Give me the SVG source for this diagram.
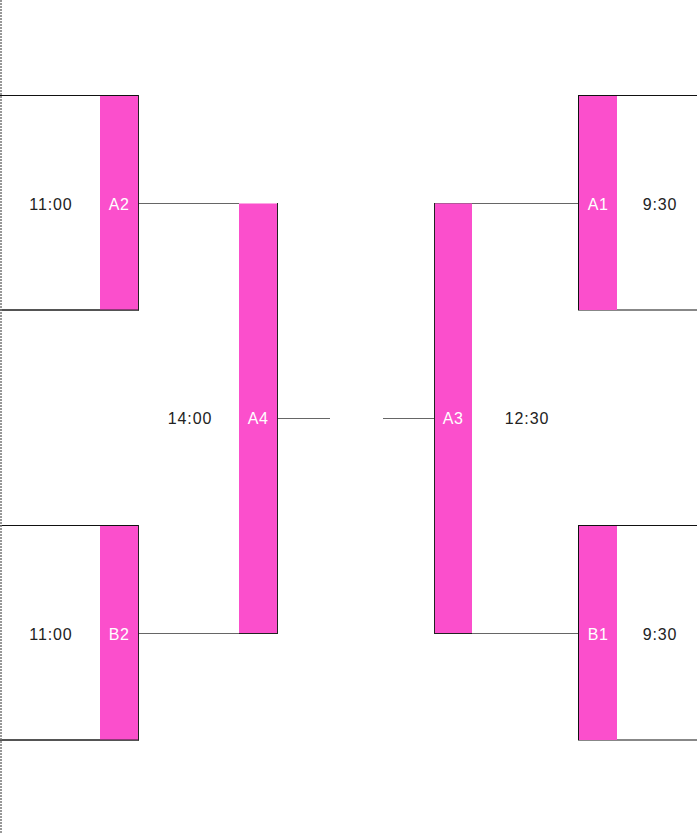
<svg xmlns="http://www.w3.org/2000/svg" width="697" height="833" viewBox="0 0 697 833">
<style>
.box{fill:#ffffff;stroke:#111111;stroke-width:1}
.band{fill:#fb4fcc}
.edge{stroke:#222222;stroke-width:1;fill:none}
.conn{stroke:#666666;stroke-width:1;fill:none}
.t{font-family:"Liberation Sans",Arial,sans-serif;font-size:16px;letter-spacing:0.9px;fill:#222222;text-anchor:middle}
.l{font-family:"Liberation Sans",Arial,sans-serif;font-size:16px;letter-spacing:0.4px;fill:#ffffff;text-anchor:middle}
</style>
<rect width="697" height="833" fill="#ffffff"/>
<g id="connectors">
<line class="conn" x1="138" y1="203.5" x2="239" y2="203.5"/>
<line class="conn" x1="138" y1="633.5" x2="239" y2="633.5"/>
<line class="conn" x1="277" y1="418.5" x2="330" y2="418.5"/>
<line class="conn" x1="383" y1="418.5" x2="434" y2="418.5"/>
<line class="conn" x1="434" y1="203.5" x2="579" y2="203.5"/>
<line class="conn" x1="472" y1="633.5" x2="579" y2="633.5"/>
</g>
<g id="A2">
<rect class="box" x="-10" y="95.5" width="148.5" height="214.5"/>
<rect class="band" x="100" y="96" width="38" height="214"/>
<line class="edge" x1="138.5" y1="95" x2="138.5" y2="310.5"/>
<line class="edge" x1="-1" y1="310" x2="138.5" y2="310"/>
<text class="t" x="51" y="209.5">11:00</text>
<text class="l" x="119" y="209.5">A2</text>
</g>
<g id="B2">
<rect class="box" x="-10" y="525.5" width="148.5" height="214.5"/>
<rect class="band" x="100" y="526" width="38" height="214"/>
<line class="edge" x1="138.5" y1="525" x2="138.5" y2="740.5"/>
<line class="edge" x1="-1" y1="740" x2="138.5" y2="740"/>
<text class="t" x="51" y="639.5">11:00</text>
<text class="l" x="119" y="639.5">B2</text>
</g>
<g id="A4">
<rect class="band" x="239" y="203.5" width="38" height="430"/>
<line class="edge" x1="277.5" y1="203" x2="277.5" y2="634"/>
<line class="edge" x1="239" y1="633.5" x2="278" y2="633.5"/>
<text class="t" x="190" y="423.5">14:00</text>
<text class="l" x="258" y="423.5">A4</text>
</g>
<g id="A3">
<rect class="band" x="434" y="203.5" width="38" height="430"/>
<line class="edge" x1="434.5" y1="203" x2="434.5" y2="634"/>
<line class="edge" x1="434" y1="633.5" x2="472" y2="633.5"/>
<text class="t" x="527" y="423.5">12:30</text>
<text class="l" x="453" y="423.5">A3</text>
</g>
<g id="A1">
<rect class="box" x="578.5" y="95.5" width="130" height="214.5"/>
<rect class="band" x="579" y="96" width="38" height="214"/>
<text class="t" x="660" y="209.5">9:30</text>
<text class="l" x="598" y="209.5">A1</text>
</g>
<g id="B1">
<rect class="box" x="578.5" y="525.5" width="130" height="214.5"/>
<rect class="band" x="579" y="526" width="38" height="214"/>
<text class="t" x="660" y="639.5">9:30</text>
<text class="l" x="598" y="639.5">B1</text>
</g>
<line x1="1" y1="0" x2="1" y2="833" stroke="#777777" stroke-width="1.5" stroke-dasharray="2,1"/>
</svg>
